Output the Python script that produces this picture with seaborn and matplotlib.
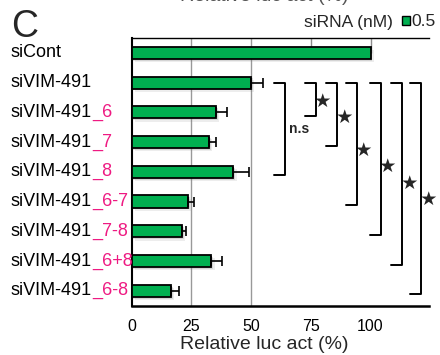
"""Relative luciferase activity for siVIM-491 variants (panel C)."""

import matplotlib

matplotlib.use("Agg")
import matplotlib.pyplot as plt
import numpy as np
import pandas as pd
import seaborn as sns
from matplotlib.patches import Patch
from matplotlib.transforms import blended_transform_factory

# ---- data ----
BASE_NAMES = ["siCont", "siVIM-491", "siVIM-491", "siVIM-491", "siVIM-491",
              "siVIM-491", "siVIM-491", "siVIM-491", "siVIM-491"]
SUFFIXES = ["", "", "_6", "_7", "_8", "_6-7", "_7-8", "_6+8", "_6-8"]
LUC_ACT = [100, 50, 35.4, 32.5, 42.6, 23.6, 21.0, 33.4, 16.4]
LUC_ERR = [0, 4.8, 4.4, 2.7, 6.7, 2.5, 1.6, 4.6, 3.5]
XTICKS = [0, 25, 50, 75, 100]

# significance brackets: compared rows and mark
COMP_FROM = [1, 1, 1, 1, 1, 1, 1]
COMP_TO = [4, 2, 3, 5, 6, 7, 8]
COMP_MARK = ["n.s", "★", "★", "★", "★", "★", "★"]

# ---- layout ----
GREEN = "#00AF50"
PINK = "#EE1A82"
XMAX = 124.6
BRACKET_X = [59.7, 72.4, 81.5, 89.6, 99.6, 108.6, 116.7]
BRACKET_W = 4.6

sns.set_style("white")
plt.rcParams["font.family"] = ["Liberation Sans", "DejaVu Sans"]

df = pd.DataFrame({
    "label": [b + s for b, s in zip(BASE_NAMES, SUFFIXES)],
    "luc": LUC_ACT,
    "err": LUC_ERR,
})
pos = np.arange(len(df))

fig = plt.figure(figsize=(4.4, 3.55), dpi=100)
ax = fig.add_axes([0.2993, 0.1389, 0.6764, 0.7541])

# soft drop shadow behind the bars
for dx, dy, alpha in [(1.3, 0.11, 0.12), (0.7, 0.06, 0.2)]:
    ax.barh(pos + dy, df["luc"], left=dx, height=0.41, color="0.45",
            alpha=alpha, linewidth=0, zorder=2)

sns.barplot(data=df, x="luc", y="label", orient="h", color=GREEN,
            saturation=1, edgecolor="black", linewidth=1.3, width=0.41,
            ax=ax, zorder=3)

has_err = df["err"] > 0
ax.errorbar(df.loc[has_err, "luc"], pos[has_err],
            xerr=[np.zeros(has_err.sum()), df.loc[has_err, "err"]],
            fmt="none", ecolor="black", elinewidth=1.2, capsize=3.6,
            capthick=1.2, zorder=4)

# grid lines (the right ones are hidden below the first bar)
for xv in XTICKS[1:3]:
    ax.axvline(xv, color="0.6", lw=1, zorder=1)
ax.vlines(XTICKS[3:], -0.5, 0, color="0.55", lw=1, zorder=1)

ax.set_xlim(0, XMAX)
ax.set_ylim(len(df) - 0.5, -0.5)
ax.set_xticks(XTICKS)
ax.set_xticks([XMAX], minor=True)
ax.tick_params(axis="x", direction="inout", length=9, width=1.2,
               labelsize=11.5, pad=5, colors="black")
ax.tick_params(axis="x", which="minor", direction="in", length=4, width=1.2)
ax.set_yticks([])
ax.set_ylabel("")
ax.set_xlabel("Relative luc act (%)", fontsize=14)
ax.xaxis.set_label_coords(0.445, -0.112)

ax.spines["right"].set_visible(False)
ax.spines["top"].set_linewidth(1.0)
ax.spines["left"].set_linewidth(1.5)
ax.spines["bottom"].set_linewidth(1.8)
for sp in ["top", "left", "bottom"]:
    ax.spines[sp].set_color("black")

# two-colour category labels
trans = blended_transform_factory(fig.transFigure, ax.transData)
for i, (base, suf) in enumerate(zip(BASE_NAMES, SUFFIXES)):
    t = ax.text(10.7 / 440, i, base, transform=trans, ha="left", va="center",
                fontsize=13, color="black")
    if suf:
        ax.annotate(suf, xy=(1, 0), xycoords=t, ha="left", va="bottom",
                    fontsize=13, color=PINK)

# significance brackets
for x0, a, b, mark in zip(BRACKET_X, COMP_FROM, COMP_TO, COMP_MARK):
    top, bot = a + 0.02, b + 0.12
    x1 = x0 + BRACKET_W
    ax.plot([x0, x1, x1, x0], [top, top, bot, bot], color="black", lw=1.4,
            clip_on=False, zorder=5)
    if mark == "n.s":
        ax.text(x1 + 5.7, (top + bot) / 2, mark, ha="center", va="center",
                fontsize=10, fontweight="bold", clip_on=False)
    else:
        ax.text(x1 + 3.0, top + 0.55 * (bot - top), mark, ha="center",
                va="center", fontsize=14, family="DejaVu Sans", clip_on=False)

# panel letter, legend and the clipped label of the panel above
fig.text(11 / 440, 1 - 37 / 355, "C", fontsize=27, ha="left", va="baseline")
fig.text(304 / 440, 1 - 27 / 355, "siRNA (nM)", fontsize=12.5, ha="left",
         va="baseline")
fig.legend(handles=[Patch(facecolor=GREEN, edgecolor="black", lw=1)],
           labels=["0.5"], loc="center left",
           bbox_to_anchor=(401.7 / 440, 1 - 22 / 355), frameon=False,
           fontsize=12.5, handlelength=0.45, handleheight=0.45,
           handletextpad=0.1, borderpad=0, borderaxespad=0)
fig.text(264 / 440, 1 - 1.2 / 355, "Relative luc act (%)", fontsize=14,
         ha="center", va="baseline", color="#555555")

fig.savefig("out.png", dpi=100)
